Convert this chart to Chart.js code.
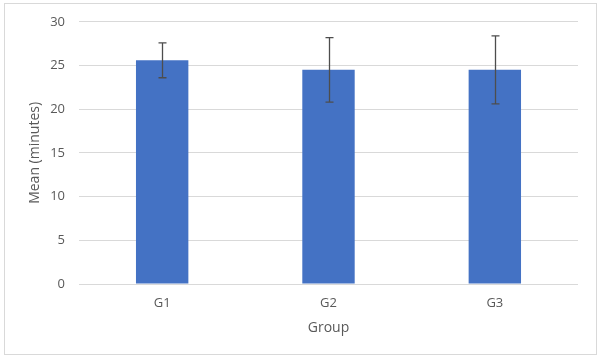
<!DOCTYPE html>
<html>
<head>
<meta charset="utf-8">
<script src="https://cdn.jsdelivr.net/npm/chart.js@4"></script>
<style>
html,body{margin:0;padding:0;background:#fff;}
#wrap{width:600px;height:358px;position:relative;}
</style>
</head>
<body>
<div id="wrap"><canvas id="c" width="600" height="358"></canvas></div>
<script>
const categories = ['G1', 'G2', 'G3'];
const means = [25.6, 24.5, 24.5];
const errors = [2.0, 3.7, 3.9];
const yTicks = [0, 5, 10, 15, 20, 25, 30];

const FONT = "'Open Sans', 'Liberation Sans', sans-serif";
const TXT = '#595959';

const frame = {
  id: 'frame',
  beforeDraw(chart) {
    const ctx = chart.ctx;
    ctx.save();
    ctx.fillStyle = '#fff';
    ctx.fillRect(0, 0, chart.width, chart.height);
    ctx.strokeStyle = '#d9d9d9';
    ctx.lineWidth = 1;
    ctx.strokeRect(4.5, 3.5, 592, 351);
    ctx.restore();
  }
};

const errorBars = {
  id: 'errorBars',
  afterDatasetsDraw(chart) {
    const ctx = chart.ctx;
    const y = chart.scales.y;
    const meta = chart.getDatasetMeta(0);
    ctx.save();
    ctx.strokeStyle = '#4d4d4d';
    ctx.lineWidth = 1.3;
    meta.data.forEach((bar, i) => {
      const x = Math.round(bar.x) + 0.5;
      const top = y.getPixelForValue(means[i] + errors[i]);
      const bot = y.getPixelForValue(means[i] - errors[i]);
      ctx.beginPath();
      ctx.moveTo(x, top); ctx.lineTo(x, bot);
      ctx.moveTo(x - 4, top); ctx.lineTo(x + 4, top);
      ctx.moveTo(x - 4, bot); ctx.lineTo(x + 4, bot);
      ctx.stroke();
    });
    ctx.restore();
  }
};

new Chart(document.getElementById('c'), {
  type: 'bar',
  data: {
    labels: categories,
    datasets: [{
      data: means,
      backgroundColor: '#4472C4',
      borderWidth: 0,
      categoryPercentage: 1,
      barPercentage: 0.315
    }]
  },
  options: {
    responsive: false,
    animation: false,
    devicePixelRatio: 1,
    layout: { padding: { left: 0, right: 22, top: 21, bottom: 0 } },
    plugins: { legend: { display: false }, tooltip: { enabled: false } },
    scales: {
      x: {
        grid: { display: false, drawTicks: false },
        border: { display: false },
        ticks: { color: TXT, font: { family: FONT, size: 13 }, padding: 11 },
        title: { display: true, text: 'Group', color: TXT, font: { family: FONT, size: 14 }, padding: { top: 4, bottom: 22 } },
        afterFit(s) { s.height = 74; }
      },
      y: {
        min: 0, max: 30,
        afterBuildTicks(s) { s.ticks = yTicks.map(v => ({ value: v })); },
        grid: { color: '#d9d9d9', drawTicks: false, lineWidth: 1 },
        border: { display: false },
        ticks: { color: TXT, font: { family: FONT, size: 13 }, padding: 14 },
        title: { display: true, text: 'Mean (minutes)', color: TXT, font: { family: FONT, size: 14 }, padding: { top: 27, bottom: 0 } },
        afterFit(s) { s.width = 79; }
      }
    }
  },
  plugins: [frame, errorBars]
});
</script>
</body>
</html>
